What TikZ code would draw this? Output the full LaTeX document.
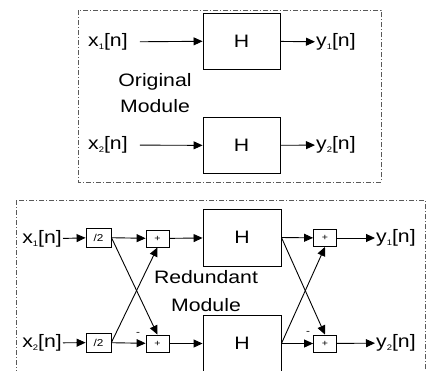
\documentclass[tikz,border=0pt]{standalone}
\usepackage{fontspec}
\setmainfont{Liberation Sans}[FakeStretch=1.18]
\usetikzlibrary{arrows.meta,positioning}
\tikzset{
  frame/.style={draw=black!65,line width=0.8pt,dash pattern=on 5pt off 2pt on 1pt off 2pt},
  blockH/.style={draw,line width=0.9pt,minimum width=77pt,minimum height=56pt,inner sep=0pt,font=\fontsize{18}{21}\selectfont},
  halfbox/.style={draw,line width=0.8pt,minimum width=25pt,minimum height=19pt,inner sep=0pt,font=\fontsize{10}{12}\selectfont},
  addbox/.style={draw,line width=0.8pt,minimum width=23pt,minimum height=17pt,inner sep=0pt,font=\fontsize{9}{10}\selectfont},
  sig/.style={font=\fontsize{18}{21}\selectfont,inner sep=1pt},
  minus/.style={font=\fontsize{10}{10}\selectfont,inner sep=0pt},
  wire/.style={line width=0.9pt,-{Triangle[length=9pt,width=8pt]}}
}
\newcommand{\sgn}[2]{#1\raisebox{-0.25ex}{\fontsize{8}{8}\selectfont #2}[n]}

\begin{document}
\begin{tikzpicture}[x=1pt,y=-1pt]
  \clip (0,0) rectangle (426,370);
  % original module
  \draw[frame] (78,10) rectangle (381,182);
  \node[sig,anchor=west] (x1a) at (87,42) {\sgn{x}{1}};
  \node[sig,anchor=west] (x2a) at (87,145) {\sgn{x}{2}};
  \node[blockH] (H1) at (241.5,41) {H};
  \node[blockH] (H2) at (241.5,145.5) {H};
  \node[sig,anchor=west] (y1a) at (315,42) {\sgn{y}{1}};
  \node[sig,anchor=west] (y2a) at (315,145) {\sgn{y}{2}};
  \node[sig,align=center,font=\fontsize{18}{26}\selectfont] (orig) at (155,93) {Original\\Module};
  \draw[wire,shorten <=11pt] (x1a) -- (H1);
  \draw[wire,shorten <=11pt] (x2a) -- (H2);
  \draw[wire] (H1) -- (y1a);
  \draw[wire] (H2) -- (y2a);
  % redundant module
  \draw[frame] (16,200) rectangle (425,420);
  \node[sig,anchor=east] (x1b) at (63,239) {\sgn{x}{1}};
  \node[sig,anchor=east] (x2b) at (63,343) {\sgn{x}{2}};
  \node[halfbox] (d1) at (98.5,237.5) {/2};
  \node[halfbox] (d2) at (98.5,342.5) {/2};
  \node[addbox] (a1) at (157.5,238.5) {+};
  \node[addbox] (a2) at (157.5,343.5) {+};
  \node[blockH,minimum width=78pt,minimum height=57pt] (H3) at (242,237.5) {H};
  \node[blockH,minimum width=78pt,minimum height=57pt] (H4) at (242,343.5) {H};
  \node[addbox] (a3) at (325,238) {+};
  \node[addbox] (a4) at (325,343.5) {+};
  \node[sig,anchor=west] (y1b) at (375,238) {\sgn{y}{1}};
  \node[sig,anchor=west] (y2b) at (375,343) {\sgn{y}{2}};
  \node[sig,align=center,font=\fontsize{18}{28}\selectfont] (red) at (206,291) {Redundant\\Module};
  \node[minus] (m1) at (138,334) {-};
  \node[minus] (m2) at (308,333) {-};
  \draw[wire] (x1b) -- (d1);
  \draw[wire] (x2b) -- (d2);
  \draw[wire] (d1) -- (a1);
  \draw[wire] (d2) -- (a2);
  \draw[wire] (d1.east) -- (a2.north);
  \draw[wire] (d2.east) -- (a1.south);
  \draw[wire] (a1) -- (H3);
  \draw[wire] (a2) -- (H4);
  \draw[wire] (H3.east) -- (a3);
  \draw[wire] (H4.east) -- (a4);
  \draw[wire] (H3.east) -- (a4.north);
  \draw[wire] (H4.east) -- (a3.south);
  \draw[wire] (a3) -- (y1b);
  \draw[wire] (a4) -- (y2b);
\end{tikzpicture}
\end{document}
